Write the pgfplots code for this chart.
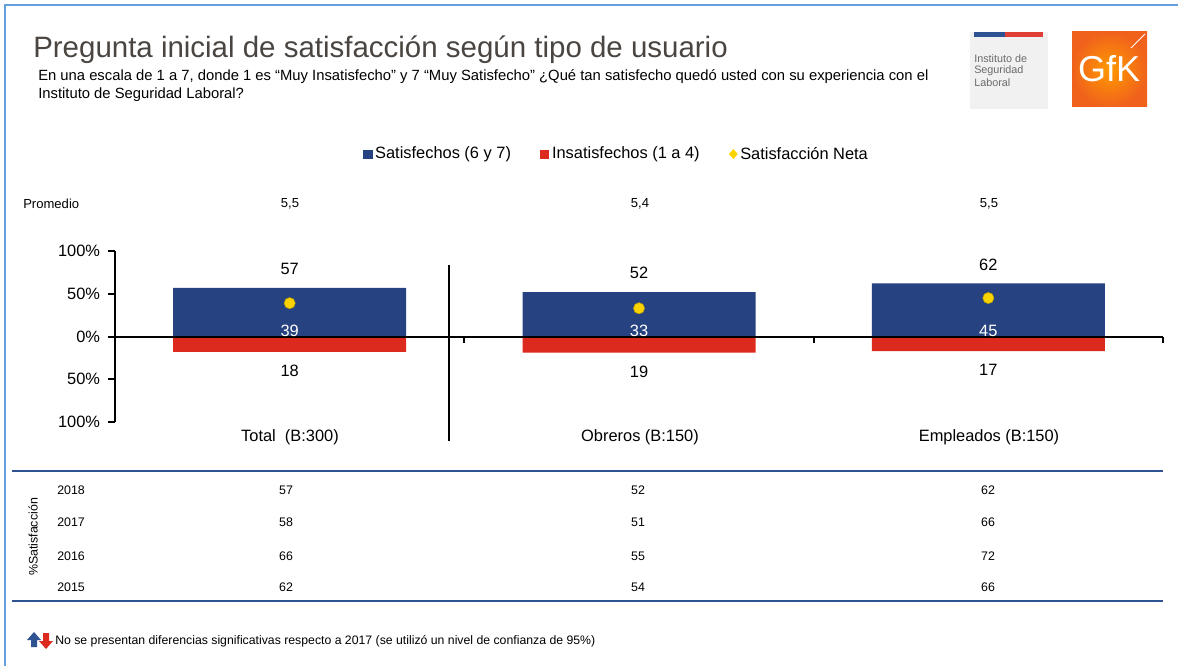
\documentclass[border=0pt]{standalone}
\usepackage{fontspec}
\setmainfont{Liberation Sans}
\usepackage{pgfplots}
\pgfplotsset{compat=1.18}

\definecolor{satblue}{RGB}{39,66,128}
\definecolor{insred}{RGB}{220,42,30}
\definecolor{netyellow}{RGB}{250,212,0}
\definecolor{framecol}{RGB}{100,160,222}
\definecolor{rulecol}{RGB}{46,82,146}
\definecolor{titlecol}{RGB}{74,69,64}
\definecolor{gfkorange}{RGB}{240,98,28}
\definecolor{isl}{RGB}{241,241,241}

\newcommand{\chartfont}{\fontsize{12.3}{14}\selectfont}
\newcommand{\smallfont}{\fontsize{9.3}{11}\selectfont}

\begin{document}
\begin{tikzpicture}
% page layout in pixel units of the reference (y downwards)
\begin{scope}[x=0.75pt,y=-0.75pt]
\useasboundingbox (0,0) rectangle (1178,666);
\fill[white] (0,0) rectangle (1178,666);
\draw[framecol, line width=1.5pt] (5,666) -- (5,5) -- (1178,5);

% title and question
\node[anchor=base west, inner sep=0pt, text=titlecol, font=\fontsize{22.1}{27}\selectfont]
  at (33,58) {Pregunta inicial de satisfacción según tipo de usuario};
\node[anchor=base west, inner sep=0pt, font=\fontsize{11.1}{13}\selectfont]
  at (38,81) {En una escala de 1 a 7, donde 1 es “Muy Insatisfecho” y 7 “Muy Satisfecho” ¿Qué tan satisfecho quedó usted con su experiencia con el};
\node[anchor=base west, inner sep=0pt, font=\fontsize{11.1}{13}\selectfont]
  at (38,99) {Instituto de Seguridad Laboral?};

% logos
\fill[isl] (970,32) rectangle (1048,109);
\fill[rulecol] (974,32) rectangle (1005,37);
\fill[insred!90] (1005,32) rectangle (1043,37);
\begin{scope}[every node/.style={anchor=west, inner sep=0pt, text=black!58, font=\fontsize{8.1}{9}\selectfont}]
\node at (974,59) {Instituto de};
\node at (974,71) {Seguridad};
\node at (974,83) {Laboral};
\end{scope}
\shade[inner color=orange!80!yellow, outer color=gfkorange] (1072,32) rectangle (1147,107);
\draw[white, line width=0.6pt] (1131,48) -- (1145,34);
\node[text=white, inner sep=0pt, font=\fontsize{27}{30}\selectfont] at (1109,69) {GfK};

% promedio row
\begin{scope}[every node/.style={inner sep=0pt, font=\fontsize{9.8}{11}\selectfont}]
\node[anchor=west] at (23,204) {Promedio};
\node at (290,204) {5,5};
\node at (640,204) {5,4};
\node at (989,204) {5,5};
\end{scope}

% separator between Total and the groups
\draw[line width=1.5pt] (449,265) -- (449,441);

% category names
\begin{scope}[every node/.style={inner sep=0pt, font=\chartfont}]
\node at (290,437) {Total\ \ (B:300)};
\node at (640,437) {Obreros (B:150)};
\node at (989,437) {Empleados (B:150)};
\end{scope}

% history table
\draw[rulecol, line width=1.3pt] (12,471) -- (1163,471);
\draw[rulecol, line width=1.3pt] (12,601) -- (1163,601);
\node[rotate=90, inner sep=0pt, font=\smallfont] at (33,537) {\%Satisfacción};
\begin{scope}[every node/.style={inner sep=0pt, font=\smallfont}]
\foreach \yr/\yy/\a/\b/\c in {2018/490/57/52/62, 2017/522/58/51/66, 2016/556/66/55/72, 2015/587/62/54/66}{
  \node[anchor=west] at (57,\yy) {\yr};
  \node at (286,\yy) {\a};
  \node at (638,\yy) {\b};
  \node at (988,\yy) {\c};
}
\end{scope}

% footnote
\fill[rulecol] (31,647) -- (31,640) -- (27,640) -- (34,632) -- (41,640) -- (37,640) -- (37,647) -- cycle;
\fill[insred] (43,633) -- (49,633) -- (49,641) -- (53,641) -- (46,649) -- (39,641) -- (43,641) -- cycle;
\node[anchor=west, inner sep=0pt, font=\fontsize{9.2}{11}\selectfont] at (55,641)
  {No se presentan diferencias significativas respecto a 2017 (se utilizó un nivel de confianza de 95\%)};
\end{scope}

\begin{axis}[
  at={(86.25pt,-316.5pt)}, anchor=south west,
  scale only axis, width=786pt, height=128.25pt,
  xmin=0.5, xmax=3.5, ymin=-100, ymax=100,
  axis x line=middle, axis y line=left,
  axis line style={-, line width=1.5pt, black},
  hide obscured x ticks=false, hide obscured y ticks=false,
  xtick={0.5,1.5,2.5,3.5}, xticklabels={},
  ytick={-100,-50,0,50,100},
  yticklabels={100\%,50\%,0\%,50\%,100\%},
  tick align=outside, major tick length=5pt,
  tick style={black, line width=1.5pt},
  yticklabel style={font=\chartfont, inner sep=0pt, xshift=-6pt},
  /pgf/number format/assume math mode=true,
  clip=false, axis on top,
  legend columns=-1,
  legend style={at={(0.479,1.567)}, anchor=center, draw=none, fill=none,
    font=\chartfont, inner sep=0pt,
    /tikz/every even column/.append style={column sep=20pt}},
]
\addplot[ybar, bar shift=0pt, bar width=0.667, fill=satblue, draw=none,
  nodes near coords,
  every node near coord/.append style={font=\chartfont, inner sep=0pt, yshift=9.75pt},
  legend image code/.code={\fill[satblue] (0pt,-3.4pt) rectangle (6.8pt,3.4pt);}]
  coordinates {(1,57) (2,52) (3,62)};
\addlegendentry{Satisfechos (6 y 7)}

\addplot[ybar, bar shift=0pt, bar width=0.667, fill=insred, draw=none,
  point meta=explicit, nodes near coords,
  every node near coord/.append style={font=\chartfont, inner sep=0pt, yshift=-18.75pt},
  legend image code/.code={\fill[insred] (0pt,-3.4pt) rectangle (6.8pt,3.4pt);}]
  coordinates {(1,-18) [18] (2,-19) [19] (3,-17) [17]};
\addlegendentry{Insatisfechos (1 a 4)}

\addplot[only marks, mark=*, mark size=4.2pt,
  mark options={fill=netyellow, draw=netyellow!75!black, line width=0.4pt},
  legend image code/.code={\fill[netyellow] (3.4pt,-3.4pt) -- (6.4pt,0pt) -- (3.4pt,3.4pt) -- (0.4pt,0pt) -- cycle;}]
  coordinates {(1,39) (2,33) (3,45)};
\addlegendentry{Satisfacción Neta}

% net satisfaction value written just above the zero line
\addplot[only marks, mark=none, forget plot, point meta=explicit, nodes near coords,
  every node near coord/.append style={font=\chartfont, text=white, inner sep=0pt, yshift=-0.5pt}]
  coordinates {(1,0) [39] (2,0) [33] (3,0) [45]};
\end{axis}
\end{tikzpicture}
\end{document}
